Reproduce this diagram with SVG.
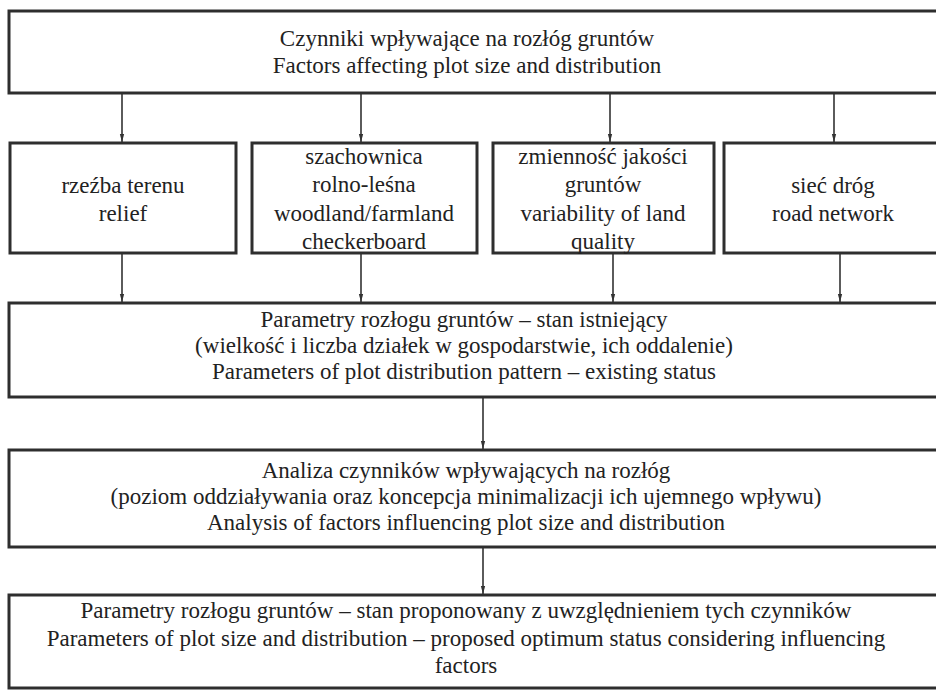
<svg xmlns="http://www.w3.org/2000/svg" width="936" height="690" viewBox="0 0 936 690">
<style>
.box{fill:#fff;stroke:#2e2e2e;stroke-width:3}
.t{font-family:"Liberation Serif","Times New Roman",serif;font-size:23px;fill:#222;text-anchor:middle}
.c{stroke:#333;stroke-width:1.6;fill:none;marker-end:url(#ah)}
</style>
<defs>
<marker id="ah" markerUnits="userSpaceOnUse" markerWidth="8" markerHeight="14" refX="13" refY="3.5" orient="auto" viewBox="0 0 13 7">
<path d="M0,0 L13,3.5 L0,7 z" fill="#333"/>
</marker>
</defs>
<rect width="936" height="690" fill="#fff"/>
<g id="connectors">
<line class="c" x1="122" y1="93" x2="122" y2="142"/>
<line class="c" x1="361" y1="93" x2="361" y2="142"/>
<line class="c" x1="610" y1="93" x2="610" y2="142"/>
<line class="c" x1="834" y1="93" x2="834" y2="142"/>
<line class="c" x1="122" y1="253" x2="122" y2="302"/>
<line class="c" x1="361" y1="253" x2="361" y2="302"/>
<line class="c" x1="613" y1="253" x2="613" y2="302"/>
<line class="c" x1="840" y1="253" x2="840" y2="302"/>
<line class="c" x1="483" y1="397" x2="483" y2="449"/>
<line class="c" x1="483" y1="547" x2="483" y2="594"/>
</g>
<g id="factors">
<rect class="box" x="9" y="11" width="940" height="82"/>
<text class="t" x="467" y="46">Czynniki wpływające na rozłóg gruntów</text>
<text class="t" x="467" y="73">Factors affecting plot size and distribution</text>
</g>
<g id="relief">
<rect class="box" x="10" y="143" width="226" height="110"/>
<text class="t" x="123" y="193">rzeźba terenu</text>
<text class="t" x="123" y="221">relief</text>
</g>
<g id="checkerboard">
<rect class="box" x="252" y="143" width="225" height="110"/>
<text class="t" x="364" y="164">szachownica</text>
<text class="t" x="364" y="192">rolno-leśna</text>
<text class="t" x="364" y="221">woodland/farmland</text>
<text class="t" x="364" y="249">checkerboard</text>
</g>
<g id="quality">
<rect class="box" x="493" y="143" width="221" height="110"/>
<text class="t" x="603" y="164">zmienność jakości</text>
<text class="t" x="603" y="192">gruntów</text>
<text class="t" x="603" y="221">variability of land</text>
<text class="t" x="603" y="249">quality</text>
</g>
<g id="roads">
<rect class="box" x="724" y="143" width="225" height="110"/>
<text class="t" x="833" y="193">sieć dróg</text>
<text class="t" x="833" y="221">road network</text>
</g>
<g id="existing">
<rect class="box" x="9" y="303" width="940" height="94"/>
<text class="t" x="464" y="327">Parametry rozłogu gruntów – stan istniejący</text>
<text class="t" x="464" y="353">(wielkość i liczba działek w gospodarstwie, ich oddalenie)</text>
<text class="t" x="464" y="379">Parameters of plot distribution pattern – existing status</text>
</g>
<g id="analysis">
<rect class="box" x="9" y="450" width="940" height="97"/>
<text class="t" x="466" y="478">Analiza czynników wpływających na rozłóg</text>
<text class="t" x="466" y="504">(poziom oddziaływania oraz koncepcja minimalizacji ich ujemnego wpływu)</text>
<text class="t" x="466" y="530">Analysis of factors influencing plot size and distribution</text>
</g>
<g id="proposed">
<rect class="box" x="9" y="595" width="940" height="93"/>
<text class="t" x="466" y="618">Parametry rozłogu gruntów – stan proponowany z uwzględnieniem tych czynników</text>
<text class="t" x="466" y="646">Parameters of plot size and distribution – proposed optimum status considering influencing</text>
<text class="t" x="466" y="673">factors</text>
</g>
</svg>
